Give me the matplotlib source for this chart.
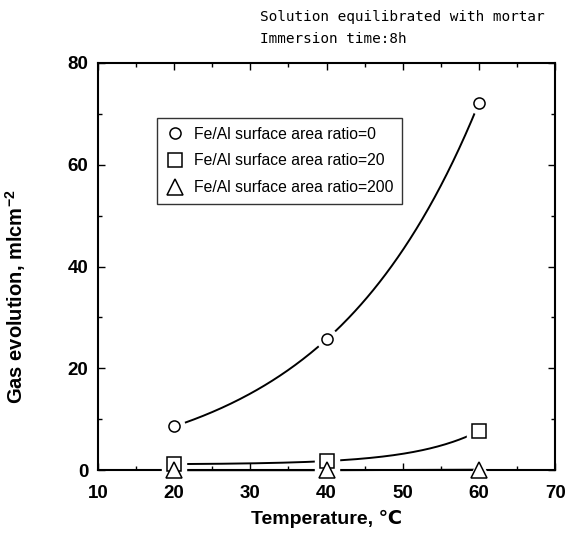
import matplotlib
matplotlib.use("Agg")
import matplotlib.pyplot as plt
from matplotlib.ticker import MultipleLocator
import numpy as np

plt.rcParams["font.family"] = ["Liberation Sans", "DejaVu Sans"]
plt.rcParams["mathtext.fontset"] = "custom"
plt.rcParams["mathtext.bf"] = "Liberation Sans:bold"
plt.rcParams["mathtext.default"] = "bf"

# data
temperature = [20, 40, 60]
gas_ratio_0 = [8.6, 25.7, 72.2]
gas_ratio_20 = [1.2, 1.8, 7.7]
gas_ratio_200 = [0.0, 0.0, 0.1]
labels = ["Fe/Al surface area ratio=0",
          "Fe/Al surface area ratio=20",
          "Fe/Al surface area ratio=200"]
markers = ["o", "s", "^"]


def curve(x, y):
    # smooth exponential through the three points (only for drawing the line)
    x = np.asarray(x, float)
    y = np.asarray(y, float)
    d1, d2 = y[1] - y[0], y[2] - y[1]
    xs = np.linspace(x[0], x[-1], 200)
    if d1 > 0 and d2 > d1:
        k = np.log(d2 / d1) / (x[1] - x[0])
        b = d1 / (np.exp(k * x[1]) - np.exp(k * x[0]))
        a = y[0] - b * np.exp(k * x[0])
        return xs, a + b * np.exp(k * xs)
    return x, y


fig = plt.figure(figsize=(5.66, 5.38), dpi=100)
ax = fig.add_axes([0.173, 0.126, 0.808, 0.757])

series = [gas_ratio_0, gas_ratio_20, gas_ratio_200]
sizes = [8, 10, 11]
for vals, mk, lab, ms in zip(series, markers, labels, sizes):
    cx, cy = curve(temperature, vals)
    ax.plot(cx, cy, color="black", lw=1.4, zorder=2, clip_on=False,
            solid_capstyle="butt")
    ax.plot(temperature, vals, ls="none", marker=mk, ms=ms + 7,
            mfc="white", mec="white", zorder=3, clip_on=False)
    ax.plot(temperature, vals, ls="none", marker=mk, ms=ms, mfc="white",
            mec="black", mew=1.1, zorder=4, clip_on=False, label=lab)

ax.set_xlim(10, 70)
ax.set_ylim(0, 80)
ax.xaxis.set_major_locator(MultipleLocator(10))
ax.xaxis.set_minor_locator(MultipleLocator(5))
ax.yaxis.set_major_locator(MultipleLocator(20))
ax.yaxis.set_minor_locator(MultipleLocator(10))
ax.tick_params(which="both", direction="in", top=True, right=True,
               width=1.0)
ax.tick_params(which="major", length=5, labelsize=13.5)
ax.tick_params(axis="x", which="major", pad=11)
ax.tick_params(axis="y", which="major", pad=7)
ax.tick_params(which="minor", length=3)
for t in ax.get_xticklabels() + ax.get_yticklabels():
    t.set_fontweight("bold")
for s in ax.spines.values():
    s.set_linewidth(1.5)

ax.set_xlabel("Temperature, ℃", fontsize=14, fontweight="bold",
              labelpad=5)
ax.set_ylabel("Gas evolution, mlcm$^{-2}$", fontsize=14.5,
              fontweight="bold")
ax.yaxis.set_label_coords(-0.153, 0.425)

leg = ax.legend(loc="upper left", bbox_to_anchor=(0.129, 0.865),
                fontsize=11.3, frameon=True, fancybox=False,
                edgecolor="black", handletextpad=0.6, borderpad=0.55,
                labelspacing=0.75, handlelength=1.2, borderaxespad=0)
leg.get_frame().set_linewidth(1.0)

fig.text(0.459, 0.968, "Solution equilibrated with mortar", fontsize=10.4,
         family="DejaVu Sans Mono", va="center", ha="left")
fig.text(0.459, 0.927, "Immersion time:8h", fontsize=10.4,
         family="DejaVu Sans Mono", va="center", ha="left")

fig.savefig("out.png", dpi=100)
